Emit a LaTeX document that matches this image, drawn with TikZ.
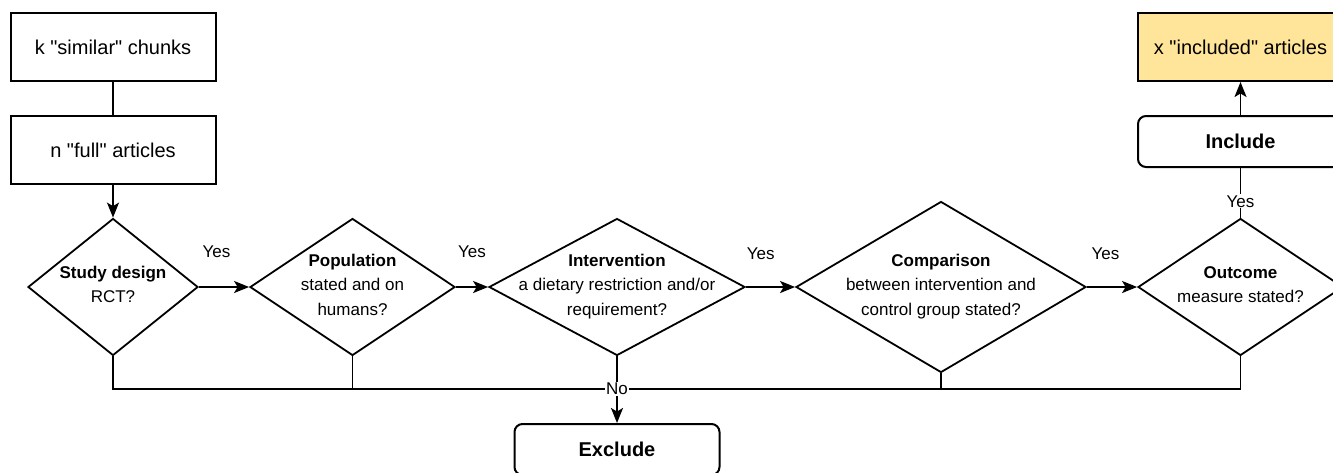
\documentclass[tikz,border=0pt]{standalone}
\usepackage{fontspec}
\setmainfont{Liberation Sans}[Ligatures=TeXOff]
\usetikzlibrary{shapes.geometric,arrows.meta}
\definecolor{incyellow}{HTML}{FFE599}

% text of a question, kept from growing the diamond
\newcommand{\qtext}[1]{\smash{\raisebox{-3pt}{\makebox[0pt]{\begin{tabular}{@{}c@{}}#1\end{tabular}}}}}

\tikzset{
	basic/.style    = {draw, line width=2pt, font=\fontsize{20}{24}\selectfont, align=center},
	box/.style      = {basic, rectangle, minimum width=205pt, minimum height=68pt},
	result/.style   = {box, fill=incyellow},
	terminal/.style = {basic, rectangle, rounded corners=8pt, minimum width=205pt,
		minimum height=51pt, font=\bfseries\fontsize{20}{24}\selectfont},
	question/.style = {draw, diamond, line width=1.8pt, inner sep=0pt,
		font=\fontsize{17}{24.5}\selectfont},
	answer/.style   = {font=\fontsize{17}{20}\selectfont, fill=white, inner sep=1pt}
}

\begin{document}
\begin{tikzpicture}[x=1pt, y=-1pt, line width=1.8pt,
>={Stealth[length=15pt,width=12pt,inset=3.5pt]}]

\useasboundingbox (0,0) rectangle (1333,472);

% input boxes
\node[box] (chunks) at (113,47) {k "similar" chunks};
\node[box] (full) at (113,150) {n "full" articles};

% the questions
\node[question, minimum width=170pt, minimum height=137pt] (design) at (113,287)
	{\qtext{\textbf{Study design}\\RCT?}};
\node[question, minimum width=205pt, minimum height=137pt] (pop) at (352.5,287)
	{\qtext{\textbf{Population}\\stated and on\\humans?}};
\node[question, minimum width=256pt, minimum height=137pt] (interv) at (617,287)
	{\qtext{\textbf{Intervention}\\a dietary restriction and/or\\requirement?}};
\node[question, minimum width=290pt, minimum height=171pt] (comp) at (941,287)
	{\qtext{\textbf{Comparison}\\between intervention and\\control group stated?}};
\node[question, minimum width=205pt, minimum height=137pt] (outc) at (1240.5,287)
	{\qtext{\textbf{Outcome}\\measure stated?}};

% outcomes
\node[terminal] (incl) at (1240.5,141.5) {Include};
\node[result] (result) at (1240.5,47) {x "included" articles};
\node[terminal] (excl) at (617,449.5) {Exclude};

% main flow
\draw (chunks) -- (full);
\draw[->] (full) -- (design);
\draw[->] (design.east) -- node[answer, pos=0.35, yshift=35pt] {Yes} (pop.west);
\draw[->] (pop.east) -- node[answer, pos=0.5, yshift=35pt] {Yes} (interv.west);
\draw[->] (interv.east) -- node[answer, pos=0.3, yshift=33pt] {Yes} (comp.west);
\draw[->] (comp.east) -- node[answer, pos=0.37, yshift=33pt] {Yes} (outc.west);
\draw (outc.north) -- node[answer, pos=0.33] {Yes} (incl.south);
\draw[->] (incl) -- (result);

% every No goes to exclude
\coordinate (nojoin) at (617,389);
\draw (design.south) |- (nojoin);
\draw (outc.south) |- (nojoin);
\draw (pop.south) -- (pop.south |- nojoin);
\draw (comp.south) -- (comp.south |- nojoin);
\draw[->] (interv.south) -- (nojoin) node[answer] {No} -- (excl.north);

\end{tikzpicture}
\end{document}
